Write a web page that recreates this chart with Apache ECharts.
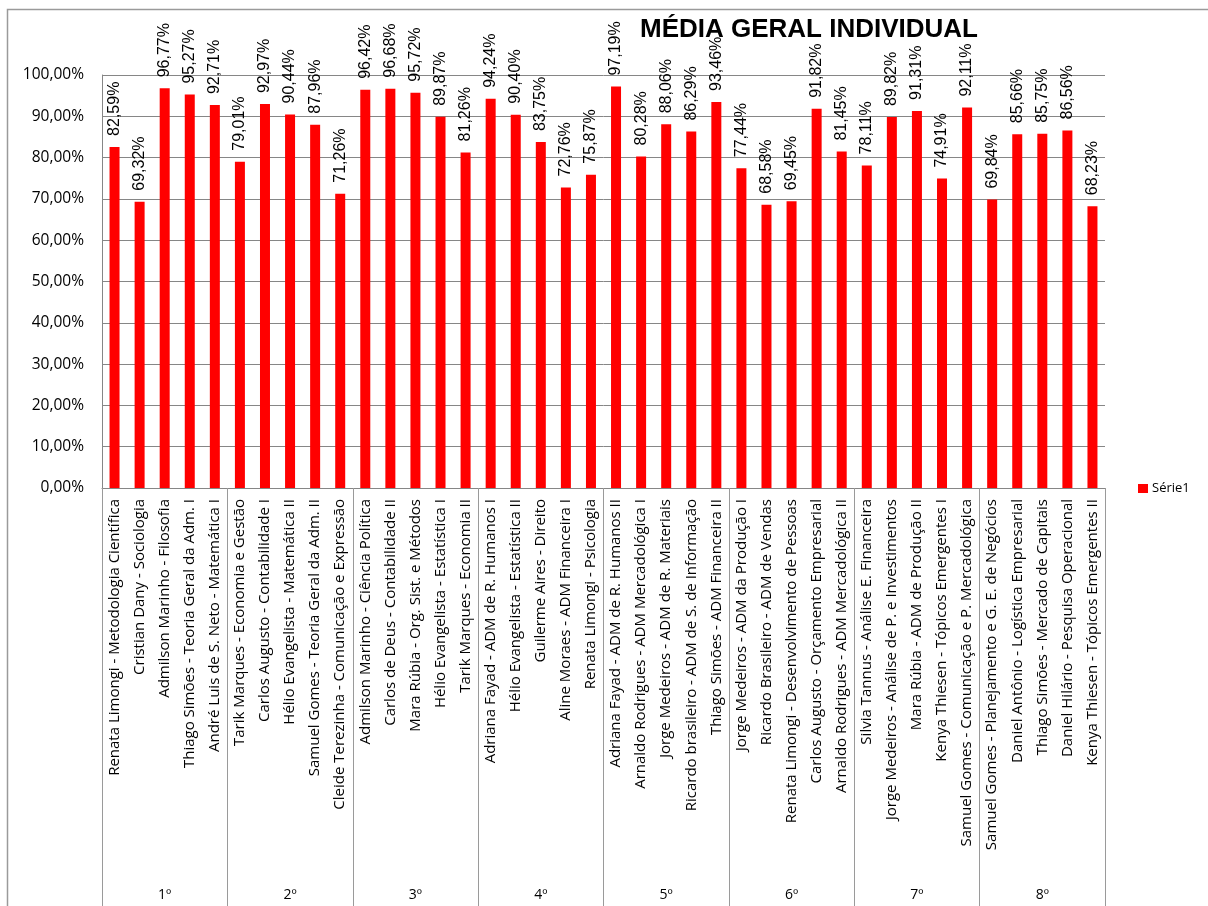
<!DOCTYPE html>
<html>
<head>
<meta charset="utf-8">
<script src="https://cdn.jsdelivr.net/npm/echarts@6/dist/echarts.min.js"></script>
<style>
  html, body { margin: 0; padding: 0; background: #fff; }
  #main { width: 1208px; height: 906px; }
</style>
</head>
<body>
<div id="main"></div>
<script>
var disciplinas = [
    'Renata Limongi - Metodologia Científica',
    'Cristian Dany - Sociologia',
    'Admilson Marinho - Filosofia',
    'Thiago Simões - Teoria Geral da Adm. I',
    'André Luis de S. Neto - Matemática I',
    'Tarik Marques - Economia e Gestão',
    'Carlos Augusto - Contabilidade I',
    'Hélio Evangelista - Matemática II',
    'Samuel Gomes - Teoria Geral da Adm. II',
    'Cleide Terezinha - Comunicação e Expressão',
    'Admilson Marinho - Ciência Política',
    'Carlos de Deus - Contabilidade II',
    'Mara Rúbia - Org. Sist. e Métodos',
    'Hélio Evangelista - Estatística I',
    'Tarik Marques - Economia II',
    'Adriana Fayad - ADM de R. Humanos I',
    'Hélio Evangelista - Estatística II',
    'Guilerme Aires - Direito',
    'Aline Moraes - ADM Financeira I',
    'Renata Limongi - Psicologia',
    'Adriana Fayad - ADM de R. Humanos II',
    'Arnaldo Rodrigues - ADM Mercadológica I',
    'Jorge Medeiros - ADM de R. Materiais',
    'Ricardo brasileiro - ADM de S. de Informação',
    'Thiago Simões - ADM Financeira II',
    'Jorge Medeiros - ADM da Produção I',
    'Ricardo Brasileiro - ADM de Vendas',
    'Renata Limongi - Desenvolvimento de Pessoas',
    'Carlos Augusto - Orçamento Empresarial',
    'Arnaldo Rodrigues - ADM Mercadológica II',
    'Silvia Tannus - Análise E. Financeira',
    'Jorge Medeiros - Análise de P. e Investimentos',
    'Mara Rúbia - ADM de Produção II',
    'Kenya Thiesen - Tópicos Emergentes I',
    'Samuel Gomes - Comunicação e P. Mercadológica',
    'Samuel Gomes - Planejamento e G. E. de Negócios',
    'Daniel Antônio - Logística Empresarial',
    'Thiago Simões - Mercado de Capitais',
    'Daniel Hilário - Pesquisa Operacional',
    'Kenya Thiesen - Tópicos Emergentes II'
];
var semestres = ['1º', '2º', '3º', '4º', '5º', '6º', '7º', '8º'];
var serie1 = [
    82.59, 69.32, 96.77, 95.27, 92.71,
    79.01, 92.97, 90.44, 87.96, 71.26,
    96.42, 96.68, 95.72, 89.87, 81.26,
    94.24, 90.40, 83.75, 72.76, 75.87,
    97.19, 80.28, 88.06, 86.29, 93.46,
    77.44, 68.58, 69.45, 91.82, 81.45,
    78.11, 89.82, 91.31, 74.91, 92.11,
    69.84, 85.66, 85.75, 86.56, 68.23
];

function pct(v) {
    return v.toFixed(2).replace('.', ',') + '%';
}

var chartDom = document.getElementById('main');
var myChart = echarts.init(chartDom);
var option;

option = {
    animation: false,
    title: {
        text: 'MÉDIA GERAL INDIVIDUAL',
        left: 640,
        top: 17,
        padding: 0,
        textStyle: {
            fontFamily: 'Liberation Sans',
            fontWeight: 'bold',
            fontSize: 26,
            color: '#000'
        }
    },
    legend: {
        data: ['Série1'],
        left: 1133,
        top: 477,
        orient: 'vertical',
        icon: 'rect',
        itemWidth: 10,
        itemHeight: 9,
        itemGap: 4,
        textStyle: {
            fontFamily: 'Open Sans',
            fontSize: 13,
            color: '#000',
            padding: [0, 0, 0, -1]
        }
    },
    graphic: [{
        type: 'rect',
        shape: { x: 7.5, y: 9.5, width: 1300, height: 1000 },
        style: { fill: 'none', stroke: '#9a9a9a', lineWidth: 1.5 },
        silent: true
    }],
    grid: {
        left: 102,
        right: 103,
        top: 75,
        bottom: 418,
        containLabel: false
    },
    xAxis: [{
        type: 'category',
        data: disciplinas,
        axisLine: { lineStyle: { color: '#868686', width: 1 } },
        axisTick: { show: false },
        axisLabel: {
            interval: 0,
            rotate: 90,
            margin: 11,
            fontFamily: 'Open Sans',
            fontSize: 15,
            color: '#000'
        }
    }, {
        type: 'category',
        position: 'bottom',
        data: semestres,
        axisLine: { show: false },
        axisTick: {
            show: true,
            interval: 0,
            length: 420,
            lineStyle: { color: '#9a9a9a', width: 1 }
        },
        axisLabel: {
            interval: 0,
            margin: 400,
            fontFamily: 'Open Sans',
            fontSize: 14,
            color: '#000'
        }
    }],
    yAxis: {
        type: 'value',
        min: 0,
        max: 100,
        interval: 10,
        axisLine: { show: true, lineStyle: { color: '#868686', width: 1 } },
        axisTick: { show: false },
        splitLine: { lineStyle: { color: '#868686', width: 1 } },
        axisLabel: {
            margin: 18,
            fontFamily: 'Open Sans',
            fontSize: 15.5,
            color: '#000',
            formatter: function (v) { return pct(v); }
        }
    },
    series: [{
        name: 'Série1',
        type: 'bar',
        xAxisIndex: 0,
        data: serie1,
        barWidth: 10,
        itemStyle: { color: '#ff0000' },
        label: {
            show: true,
            position: 'top',
            rotate: 90,
            align: 'left',
            verticalAlign: 'middle',
            distance: 11,
            fontFamily: 'Liberation Sans',
            fontSize: 16,
            color: '#000',
            formatter: function (p) { return pct(p.value); }
        }
    }]
};

myChart.setOption(option);
</script>
</body>
</html>
